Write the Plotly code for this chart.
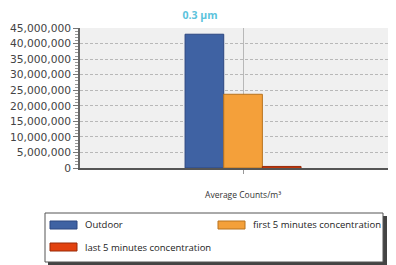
import plotly.graph_objects as go

categories = ["Average Counts/m³"]
series_names = ["Outdoor", "first 5 minutes concentration", "last 5 minutes concentration"]
outdoor = [43000000]
first5 = [23700000]
last5 = [500000]
tick_vals = [0, 5000000, 10000000, 15000000, 20000000, 25000000, 30000000, 35000000, 40000000, 45000000]
tick_text = ["0", "5,000,000", "10,000,000", "15,000,000", "20,000,000", "25,000,000",
             "30,000,000", "35,000,000", "40,000,000", "45,000,000"]

# the page body has an 8px default margin; size the figure to fill the rest of the window
OFF = 8
W, H = 396 - OFF, 265 - OFF
PLOT_L, PLOT_R, PLOT_T, PLOT_B = 80, 396, 28, 168   # plot area in window pixels
L = PLOT_L - OFF
R = 0
T = PLOT_T - OFF
B = H - (PLOT_B - OFF)

fills = ["#3f62a3", "#f4a03a", "#e2420f"]
borders = ["#2c4680", "#b8731f", "#9a2a08"]

fig = go.Figure()
for name, vals, fc, bc in zip(series_names, [outdoor, first5, last5], fills, borders):
    fig.add_trace(go.Bar(x=categories, y=vals, name=name, showlegend=False,
                         marker=dict(color=fc, line=dict(color=bc, width=1))))

pw = W - L - R
ph = H - T - B
def px_x(x):
    return (x - PLOT_L) / pw
def px_y(y):
    return (PLOT_B - y) / ph

shapes = [
    # legend shadow and box
    dict(type="rect", xref="paper", yref="paper",
         x0=px_x(48), x1=px_x(387), y0=px_y(216), y1=px_y(265),
         fillcolor="#444444", line=dict(width=0)),
    dict(type="rect", xref="paper", yref="paper",
         x0=px_x(45), x1=px_x(383), y0=px_y(213), y1=px_y(262),
         fillcolor="white", line=dict(color="#555555", width=1)),
]
annotations = []
legend_pos = [(50, 225), (218, 225), (50, 247)]
for name, fc, bc, (lx, ly) in zip(series_names, fills, borders, legend_pos):
    shapes.append(dict(type="rect", xref="paper", yref="paper",
                       x0=px_x(lx), x1=px_x(lx + 27), y0=px_y(ly - 4), y1=px_y(ly + 4),
                       fillcolor=fc, line=dict(color=bc, width=1)))
    annotations.append(dict(text=name, xref="paper", yref="paper",
                            x=px_x(lx + 33), y=px_y(ly), xanchor="left", yanchor="middle",
                            showarrow=False,
                            font=dict(family="Open Sans", size=9.5, color="#222222")))

fig.update_layout(
    width=W, height=H,
    margin=dict(l=L, r=R, t=T, b=B, autoexpand=False),
    paper_bgcolor="white",
    plot_bgcolor="#f0f0f0",
    barmode="group",
    bargap=0.633,
    bargroupgap=0,
    title=dict(text="<b>0.3 µm</b>", xref="container", x=(200 - OFF) / W, xanchor="center",
               yref="container", y=1 - (15 - OFF) / H, yanchor="middle",
               font=dict(family="Open Sans", size=10.5, color="#5bc3dc")),
    font=dict(family="DejaVu Sans", size=10, color="#444444"),
    showlegend=False,
    shapes=shapes,
    annotations=annotations,
)

fig.update_xaxes(
    type="category", range=[-0.516, 0.484],
    showgrid=True, gridcolor="#b8b8b8", gridwidth=1,
    showline=True, linecolor="#555555", linewidth=1.5, mirror=False,
    ticks="outside", ticklen=4, tickcolor="#999999",
    ticklabelstandoff=14,
    tickfont=dict(family="Open Sans", size=8.5, color="#333333"),
    fixedrange=True,
)
fig.update_yaxes(
    range=[0, 45000000], tickvals=tick_vals, ticktext=tick_text,
    showgrid=True, gridcolor="#b8b8b8", griddash="3px,2px", gridwidth=1,
    showline=True, linecolor="#666666", linewidth=1.5, mirror=True,
    ticks="outside", ticklen=5, tickcolor="#777777",
    minor=dict(dtick=1000000, ticks="outside", ticklen=3, tickcolor="#999999", showgrid=False),
    tickfont=dict(family="DejaVu Sans", size=10.7, color="#444444"),
    zeroline=False,
)

fig.write_html("out.html")
